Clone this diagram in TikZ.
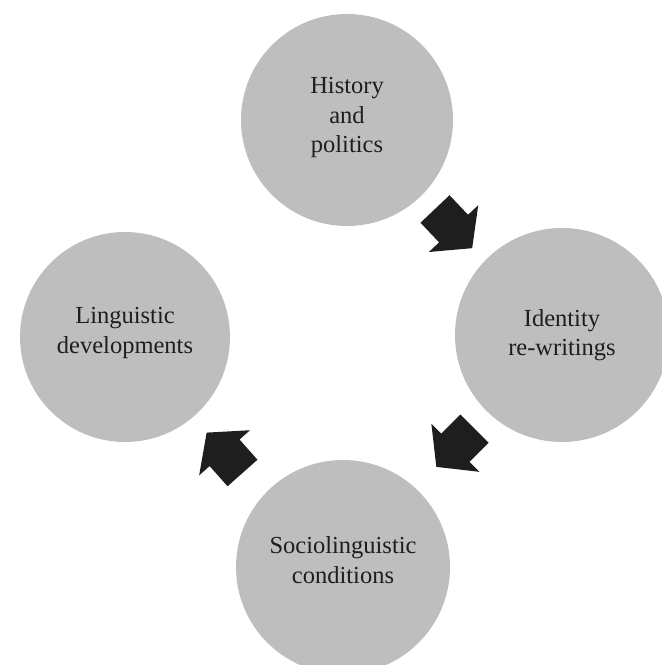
\documentclass[tikz,border=0pt]{standalone}
\usepackage{fontspec}
\setmainfont{Liberation Serif}
\definecolor{discgray}{RGB}{190,190,190}
\definecolor{inkblack}{RGB}{30,30,30}
\tikzset{
  disc/.style={circle, fill=discgray, draw=none, inner sep=0pt, minimum size=#1},
  lbl/.style={align=center, text=inkblack, font=\fontsize{24.5}{29.5}\selectfont, inner sep=0pt},
  blockarrow/.pic={
    \fill[inkblack] (0,-20) -- (27,-20) -- (27,-34) -- (54,0) -- (27,34) -- (27,20) -- (0,20) -- cycle;
  }
}
\begin{document}
\begin{tikzpicture}[x=1pt,y=1pt]
  \useasboundingbox (0,0) rectangle (662,665);
  \fill[white] (0,0) rectangle (662,665);
  % circles
  \node[disc=212pt] (top) at (347,545) {};
  \node[disc=214pt] (right) at (562,330) {};
  \node[disc=210pt] (left) at (125,328) {};
  \node[disc=214pt] (bottom) at (343,98) {};
  % labels
  \node[lbl] (toplbl) at ([yshift=2pt]top.center) {History\\and\\politics};
  \node[lbl] (rightlbl) at ([yshift=0pt]right.center) {Identity\\re-writings};
  \node[lbl] (leftlbl) at ([yshift=4pt]left.center) {Linguistic\\developments};
  \node[lbl] (bottomlbl) at ([yshift=7pt]bottom.center) {Sociolinguistic\\conditions};
  % block arrows
  \coordinate (a1) at (435,456);
  \coordinate (a2) at (474.5,236.3);
  \coordinate (a3) at (242.5,192);
  \pic[rotate=-46.5] at (a1) {blockarrow};
  \pic[rotate=225] at (a2) {blockarrow};
  \pic[rotate=131.6] at (a3) {blockarrow};
\end{tikzpicture}
\end{document}
